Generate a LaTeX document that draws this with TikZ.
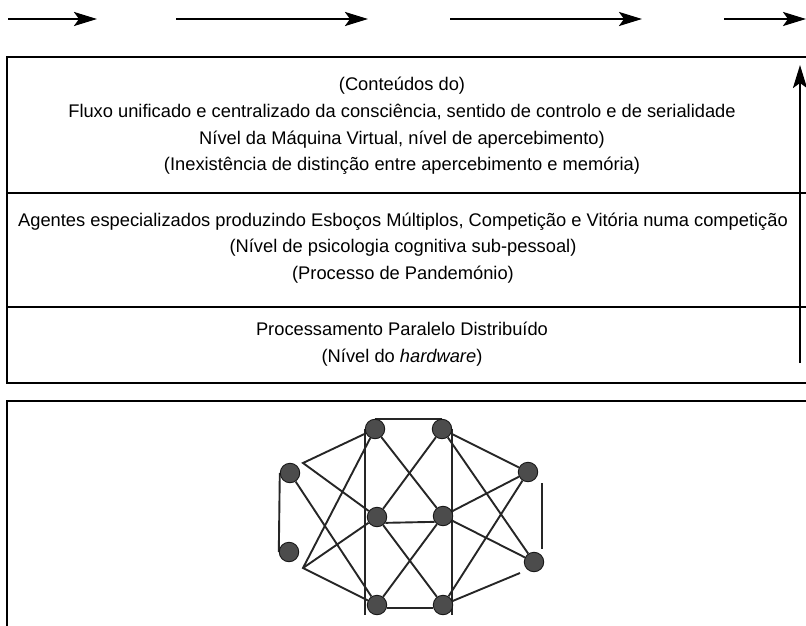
\documentclass[tikz,border=0pt]{standalone}
\usepackage{fontspec}
\setmainfont{Liberation Sans}
\usepackage{tikz}
\usetikzlibrary{arrows.meta}

\pgfdeclarelayer{fundo}
\pgfsetlayers{fundo,main}

\begin{document}
\begin{tikzpicture}[x=1pt, y=-1pt,
  seta/.style={line width=2.4pt, -{Stealth[length=23pt, width=14pt, inset=5pt]}},
  caixa/.style={line width=1.4pt},
  texto/.style={align=center, font=\fontsize{18.3}{26.7}\selectfont},
  neuronio/.style={circle, fill=black!70, draw=black!90, line width=0.9pt, minimum size=19.5pt, inner sep=0pt},
  ligacao/.style={line width=1.9pt, black!85}]
\clip (0,0) rectangle (806,626);

% Setas do topo
\coordinate (s1a) at (8,19);   \coordinate (s1b) at (97,19);
\coordinate (s2a) at (176,19); \coordinate (s2b) at (368,19);
\coordinate (s3a) at (450,19); \coordinate (s3b) at (642,19);
\coordinate (s4a) at (724,19); \coordinate (s4b) at (806,19);
\draw[seta] (s1a) -- (s1b);
\draw[seta] (s2a) -- (s2b);
\draw[seta] (s3a) -- (s3b);
\draw[seta] (s4a) -- (s4b);

% Quadro dos niveis
\draw[caixa] (7,57) rectangle (820,383);
\draw[caixa] (7,193) -- (820,193);
\draw[caixa] (7,307) -- (820,307);

% Seta vertical
\coordinate (vbase) at (800,363);
\coordinate (vtopo) at (800,65);
\draw[seta] (vbase) -- (vtopo);

% Textos
\node[texto] (consciencia) at (402,126) {(Conteúdos do)\\Fluxo unificado e centralizado da consciência, sentido de controlo e de serialidade\\Nível da Máquina Virtual, nível de apercebimento)\\(Inexistência de distinção entre apercebimento e memória)};
\node[texto] (agentes) at (403,248) {Agentes especializados produzindo Esboços Múltiplos, Competição e Vitória numa competição\\(Nível de psicologia cognitiva sub-pessoal)\\(Processo de Pandemónio)};
\node[texto] (hardware) at (402,344) {Processamento Paralelo Distribuído\\(Nível do \textit{hardware})};

% Quadro da rede
\draw[caixa] (7,401) rectangle (820,640);

% Rede
\node[neuronio] (T1) at (375,429) {};
\node[neuronio] (T2) at (442,429) {};
\node[neuronio] (L1) at (290,473) {};
\node[neuronio] (R1) at (528,472) {};
\node[neuronio] (C1) at (377,517) {};
\node[neuronio] (C2) at (443,516) {};
\node[neuronio] (L2) at (289,552) {};
\node[neuronio] (R2) at (534,562) {};
\node[neuronio] (B1) at (377,605) {};
\node[neuronio] (B2) at (443,605) {};
\coordinate (P1) at (303,463);
\coordinate (P2) at (303,568);
\coordinate (P3) at (520,573);
\coordinate (P4) at (542,483);
\coordinate (P5) at (542,549);

\begin{pgfonlayer}{fundo}
\draw[ligacao] (T1.north) -- (T2.north);
\draw[ligacao] (T1) -- (P1) -- (C1);
\draw[ligacao] (T1) -- (P2) -- (B1);
\draw[ligacao] (C1) -- (P2);
\draw[ligacao] (L1) -- (B1);
\draw[ligacao] (L1.west) -- (L2.west);
\draw[ligacao] (T1.west) -- (T1.west |- B1.south);
\draw[ligacao] (T2.east) -- (T2.east |- B2.south);
\draw[ligacao] (T1) -- (C2);
\draw[ligacao] (T2) -- (C1);
\draw[ligacao] (C1.-35) -- (C2.215);
\draw[ligacao] (B1.-15) -- (B2.195);
\draw[ligacao] (C1) -- (B2);
\draw[ligacao] (C2) -- (B1);
\draw[ligacao] (T2) -- (R1);
\draw[ligacao] (T2) -- (R2);
\draw[ligacao] (R1) -- (C2);
\draw[ligacao] (R1) -- (B2);
\draw[ligacao] (C2) -- (R2);
\draw[ligacao] (P3) -- (B2);
\draw[ligacao] (P4) -- (P5);
\end{pgfonlayer}

\end{tikzpicture}
\end{document}
